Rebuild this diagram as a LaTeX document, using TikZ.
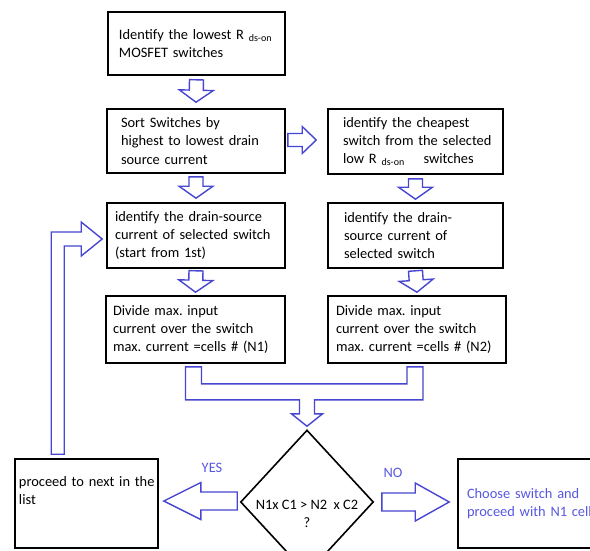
\documentclass[tikz,border=0pt]{standalone}
\usepackage{fontspec}
\setmainfont{Carlito}
\usetikzlibrary{shapes.geometric}
\usetikzlibrary{calc}
\definecolor{fblau}{HTML}{4646D2}
\definecolor{tblau}{HTML}{5757E0}
\frenchspacing

\tikzset{
  stepbox/.style={draw, line width=1.6pt, align=left, inner xsep=2pt, font=\fontsize{14.4pt}{18.3pt}\selectfont},
  inset/.style={execute at begin node={\leftskip=#1}},
  decision/.style={draw, diamond, line width=1.6pt, inner sep=0pt, minimum width=133pt, minimum height=144pt},
  blockarrow/.style={draw=fblau, line width=1.4pt, fill=white, line join=miter},
  answer/.style={text=tblau, font=\fontsize{14.4pt}{18.3pt}\selectfont}
}

% fat outlined arrow: from, to, half shaft, half head, head length
\newcommand{\fatconn}[5]{%
  \draw[blockarrow] let \p1=#1, \p2=#2,
      \n1={atan2(\y2-\y1,\x2-\x1)}, \n2={veclen(\x2-\x1,\y2-\y1)} in
    [shift={(\p1)}, rotate=\n1]
    (0pt,-#3pt) -- (\n2-#5pt,-#3pt) -- (\n2-#5pt,-#4pt) -- (\n2+0pt,0pt)
    -- (\n2-#5pt,#4pt) -- (\n2-#5pt,#3pt) -- (0pt,#3pt) -- cycle;}

\begin{document}
\begin{tikzpicture}[x=1pt, y=-1pt]
    \useasboundingbox (0,0) rectangle (590,550);
    % left column
    \node[stepbox, text width=173pt, inset=9pt, minimum height=63pt] (lowest) at (196.5,43.5) {Identify the lowest R \textsubscript{ds-on}\\MOSFET switches};
    \node[stepbox, text width=174pt, inset=12pt, minimum height=64pt] (sorted) at (196,141) {Sort Switches by\\highest to lowest drain\\source current};
    \node[stepbox, text width=174pt, inset=6pt, minimum height=65pt] (current1) at (196,235.5) {identify the drain-source\\current of selected switch\\(start from 1st)};
    \node[stepbox, text width=175pt, inset=5pt, minimum height=67pt] (divide1) at (195.5,329.5) {Divide max. input\\current over the switch\\max. current =cells \# (N1)};
    % right column
    \node[stepbox, text width=171pt, inset=13pt, minimum height=65pt] (cheapest) at (415.5,141.5) {identify the cheapest\\switch from the selected\\low R \textsubscript{ds-on}\hspace{1.3em}switches};
    \node[stepbox, text width=171pt, inset=14pt, minimum height=65pt] (current2) at (415.5,235.5) {identify the drain-\\source current of\\selected switch};
    \node[stepbox, text width=174pt, inset=6pt, minimum height=67pt] (divide2) at (417,329.5) {Divide max. input\\current over the switch\\max. current =cells \# (N2)};
    % bottom row
    \node[decision, label={[font=\fontsize{14.4pt}{18.3pt}\selectfont, align=center, yshift=-12pt]center:N1x C1 > N2\ \ x C2\\?}] (compare) at (307,502) {};
    \node[stepbox, text width=141pt, inner xsep=1pt, inset=3pt, inner ysep=0pt, text height=27pt, text depth=62pt] (nextsw) at (86.5,503.5) {proceed to next in the\\list};
    \node[stepbox, text width=158pt, inset=7pt, minimum height=89pt, text=tblau] (choose) at (539,503.5) {Choose switch and\\proceed with N1 cells};
    \node[answer] (yes) at (212,468) {YES};
    \node[answer] (no) at (393,473) {NO};

    % connectors
    \fatconn{($(lowest.south)+(0,4)$)}{($(sorted.north)+(0,-6)$)}{7}{17}{12}
    \fatconn{($(sorted.south)+(0,3)$)}{($(current1.north)+(0,-4)$)}{7}{17}{12}
    \fatconn{($(current1.south)+(0,2)$)}{($(divide1.north)+(0,-3)$)}{7}{17}{12}
    \fatconn{($(cheapest.south)+(0,4)$)}{($(current2.north)+(0,-3)$)}{7}{17}{12}
    \fatconn{($(current2.south)+(0,2)$)}{($(divide2.north)+(0,-3)$)}{7}{17}{12}
    \fatconn{($(sorted.east)+(2,-1)$)}{($(cheapest.west)+(-11,-1.5)$)}{6.5}{13.5}{14}
    \fatconn{($(compare.west)+(-2.5,-1)$)}{($(nextsw.east)+(5,-2.5)$)}{9}{18.5}{37}
    \fatconn{($(compare.east)+(7.5,0)$)}{($(choose.west)+(-8,-1.5)$)}{9}{19}{34}
    % both results merge into the test
    \draw[blockarrow] let \p1=(divide1.south), \p2=(divide2.south), \p3=(compare.north) in
        (\x1-10pt,\y1-3pt) -- (\x1-10pt,\y1-36pt) -- (\x3-7.5pt,\y1-36pt) -- (\x3-7.5pt,\y1-50pt)
        -- (\x3-15.5pt,\y1-50pt) -- (\x3,\y3+3pt) -- (\x3+15.5pt,\y1-50pt) -- (\x3+7.5pt,\y1-50pt)
        -- (\x3+7.5pt,\y1-36pt) -- (\x2+6pt,\y1-36pt) -- (\x2+6pt,\y1-3pt) -- (\x2-10pt,\y1-3pt)
        -- (\x2-10pt,\y1-20pt) -- (\x1+6pt,\y1-20pt) -- (\x1+6pt,\y1-3pt) -- cycle;
    % back to the next switch
    \draw[blockarrow] let \p1=($(current1.west)+(-4,3.5)$), \p2=($(nextsw.north west)+(37,-4)$) in
        (\x2,\y2) -- (\x2,\y1+7pt) -- (\x1-21pt,\y1+7pt) -- (\x1-21pt,\y1+17pt) -- (\x1,\y1)
        -- (\x1-21pt,\y1-17pt) -- (\x1-21pt,\y1-7pt) -- (\x2+13pt,\y1-7pt) -- (\x2+13pt,\y2) -- cycle;
\end{tikzpicture}
\end{document}
